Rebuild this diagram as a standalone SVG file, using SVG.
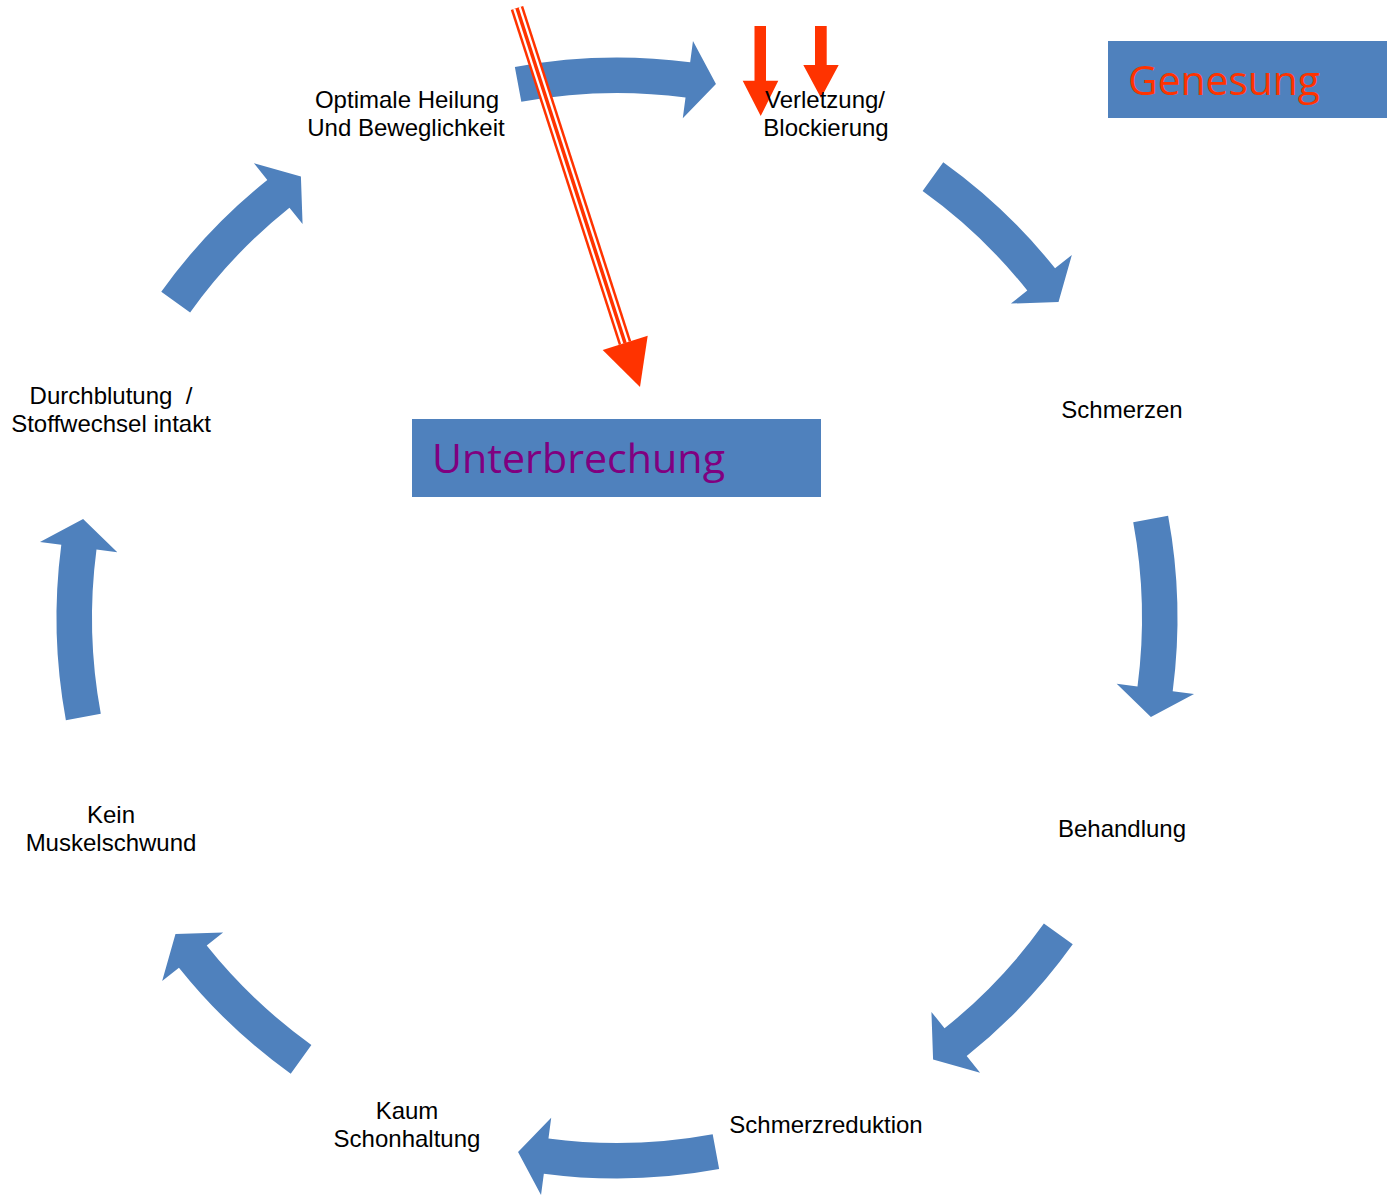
<svg xmlns="http://www.w3.org/2000/svg" xmlns:xlink="http://www.w3.org/1999/xlink" width="1387" height="1195" viewBox="0 0 1387 1195">
  <style>
    .lbl { font-family: "Liberation Sans", Arial, sans-serif; font-size: 24px; fill: #000; text-anchor: middle; white-space: pre; }
    .cyc { fill: #4F81BD; }
    .box { fill: #4F81BD; }
    .title { font-family: "Open Sans", "Liberation Sans", sans-serif; font-size: 41px; }
    .red { fill: #FF3300; }
  </style>
  <defs>
    <!-- curved block arrow on a ring centred at (617,618), drawn at 0deg, pointing clockwise -->
    <path id="arcLong" d="M 1168.11 515.85 A 560.5 560.5 0 0 1 1172.70 691.16 L 1194.02 693.97 L 1150.90 716.96 L 1116.69 683.79 L 1137.51 686.53 A 525 525 0 0 0 1133.21 522.32 Z"/>
    <path id="arcShort" d="M 1169.97 526.45 A 560.5 560.5 0 0 1 1174.01 680.48 L 1195.37 682.88 L 1152.71 706.69 L 1117.86 674.18 L 1138.73 676.52 A 525 525 0 0 0 1134.95 532.25 Z"/>
  </defs>

  <rect width="1387" height="1195" fill="#ffffff"/>

  <!-- cycle arrows -->
  <g id="connectors" class="cyc">
    <use xlink:href="#arcLong" transform="rotate(-90 617 618)"/>
    <use xlink:href="#arcShort" transform="rotate(-45 617 618)"/>
    <use xlink:href="#arcLong"/>
    <use xlink:href="#arcShort" transform="rotate(45 617 618)"/>
    <use xlink:href="#arcLong" transform="rotate(90 617 618)"/>
    <use xlink:href="#arcShort" transform="rotate(135 617 618)"/>
    <use xlink:href="#arcLong" transform="rotate(180 617 618)"/>
    <use xlink:href="#arcShort" transform="rotate(225 617 618)"/>
  </g>

  <!-- labelled boxes -->
  <g id="node-genesung">
    <rect class="box" x="1108" y="41" width="279" height="77"/>
    <text class="title" x="1128" y="95" fill="#FF3300" textLength="192" lengthAdjust="spacingAndGlyphs">Genesung</text>
  </g>
  <g id="node-unterbrechung">
    <rect class="box" x="412" y="419" width="409" height="78"/>
    <text class="title" x="432" y="473" fill="#800080" textLength="293" lengthAdjust="spacingAndGlyphs">Unterbrechung</text>
  </g>

  <!-- interruption arrows -->
  <g id="interruption">
    <line x1="517" y1="8" x2="625" y2="343" stroke="#FF3300" stroke-width="13"/>
    <line x1="517" y1="8" x2="625" y2="343" stroke="#ffffff" stroke-width="8"/>
    <line x1="517" y1="8" x2="625" y2="343" stroke="#FF3300" stroke-width="3.5"/>
    <polygon class="red" points="602.7,350 647.7,335.7 640,387"/>
    <polygon class="red" points="754.5,26 766,26 766,80.7 778.3,80.7 760.7,116 742.7,80.7 754.5,80.7"/>
    <polygon class="red" points="815,26 826.7,26 826.7,65 838.7,65 821,98 803.3,65 815,65"/>
  </g>

  <!-- cycle steps -->
  <g id="node-verletzung">
    <text class="lbl" x="825" y="108">Verletzung/</text>
    <text class="lbl" x="826" y="136">Blockierung</text>
  </g>
  <g id="node-schmerzen">
    <text class="lbl" x="1122" y="418">Schmerzen</text>
  </g>
  <g id="node-behandlung">
    <text class="lbl" x="1122" y="837">Behandlung</text>
  </g>
  <g id="node-schmerzreduktion">
    <text class="lbl" x="826" y="1133">Schmerzreduktion</text>
  </g>
  <g id="node-schonhaltung">
    <text class="lbl" x="407" y="1119">Kaum</text>
    <text class="lbl" x="407" y="1147">Schonhaltung</text>
  </g>
  <g id="node-muskelschwund">
    <text class="lbl" x="111" y="823">Kein</text>
    <text class="lbl" x="111" y="851">Muskelschwund</text>
  </g>
  <g id="node-durchblutung">
    <text class="lbl" x="111" y="404" xml:space="preserve">Durchblutung  /</text>
    <text class="lbl" x="111" y="432">Stoffwechsel intakt</text>
  </g>
  <g id="node-heilung">
    <text class="lbl" x="407" y="108">Optimale Heilung</text>
    <text class="lbl" x="406" y="136">Und Beweglichkeit</text>
  </g>
</svg>
